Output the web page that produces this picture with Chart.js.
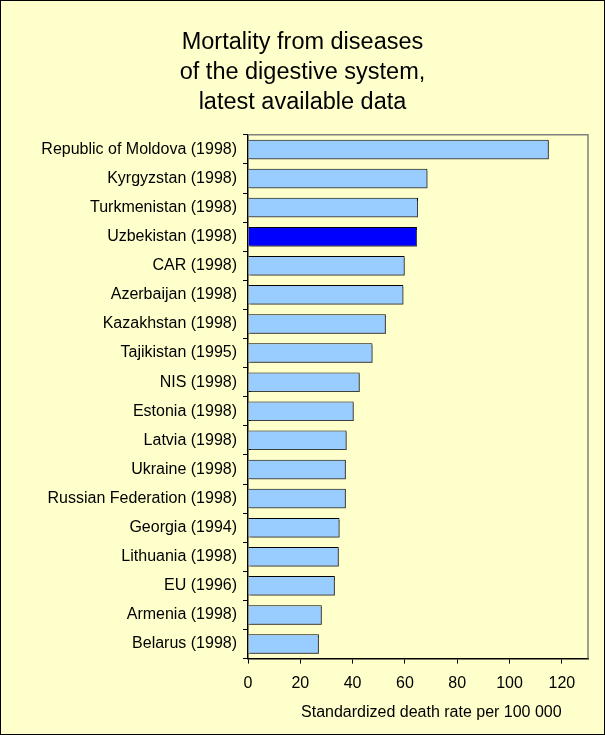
<!DOCTYPE html>
<html>
<head>
<meta charset="utf-8">
<script src="https://cdn.jsdelivr.net/npm/chart.js@4"></script>
<style>
  body { margin: 0; background: #fff; }
  #box { width: 603px; height: 733px; border: 1px solid #000; background: #FFFFCC; }
</style>
</head>
<body>
<div id="box"><canvas id="grafico" width="603" height="733"></canvas></div>
<script>
const paises = ['Republic of Moldova (1998)', 'Kyrgyzstan (1998)', 'Turkmenistan (1998)', 'Uzbekistan (1998)',
  'CAR (1998)', 'Azerbaijan (1998)', 'Kazakhstan (1998)', 'Tajikistan (1995)', 'NIS (1998)', 'Estonia (1998)',
  'Latvia (1998)', 'Ukraine (1998)', 'Russian Federation (1998)', 'Georgia (1994)', 'Lithuania (1998)',
  'EU (1996)', 'Armenia (1998)', 'Belarus (1998)'];
const taxas = [115.0, 68.6, 65.0, 64.6, 59.9, 59.4, 52.7, 47.6, 42.7, 40.4, 37.7, 37.4, 37.4, 35.0, 34.7, 33.2, 28.2, 27.1];
const destaque = 'Uzbekistan (1998)';
const ticks_x = [0, 20, 40, 60, 80, 100, 120];

const FONTE = '"Liberation Sans", Arial, sans-serif';

const cores = paises.map(p => p === destaque ? '#0000FF' : '#99CCFF');

// sombra das barras + moldura cinza em cima e à direita
const extras = {
  id: 'extras',
  beforeDatasetsDraw(chart) {
    const ctx = chart.ctx;
    ctx.save();
    ctx.shadowColor = 'rgba(80,80,80,0.8)';
    ctx.shadowOffsetX = 2;
    ctx.shadowOffsetY = 2;
    ctx.shadowBlur = 0;
  },
  afterDatasetsDraw(chart) {
    chart.ctx.restore();
  },
  afterDraw(chart) {
    const ctx = chart.ctx;
    const a = chart.chartArea;
    ctx.save();
    ctx.strokeStyle = '#808080';
    ctx.lineWidth = 1.5;
    ctx.beginPath();
    ctx.moveTo(a.left, a.top);
    ctx.lineTo(a.right, a.top);
    ctx.lineTo(a.right, a.bottom);
    ctx.stroke();
    ctx.restore();
  }
};

new Chart(document.getElementById('grafico'), {
  type: 'bar',
  data: {
    labels: paises,
    datasets: [{
      data: taxas,
      backgroundColor: cores,
      borderColor: '#000',
      borderWidth: 1,
      categoryPercentage: 1,
      barPercentage: 0.67
    }]
  },
  plugins: [extras],
  options: {
    indexAxis: 'y',
    responsive: false,
    animation: false,
    layout: { padding: { left: 16, right: 16, top: 0, bottom: 12 } },
    plugins: {
      legend: { display: false },
      tooltip: { enabled: false },
      title: {
        display: true,
        text: ['Mortality from diseases', 'of the digestive system,', 'latest available data'],
        color: '#000',
        font: { family: FONTE, size: 23.5, weight: 'normal', lineHeight: 1.26 },
        padding: { top: 27, bottom: 18 }
      }
    },
    scales: {
      x: {
        min: 0,
        max: 130,
        afterBuildTicks(scale) { scale.ticks = ticks_x.map(v => ({ value: v })); },
        grid: { drawOnChartArea: false, tickLength: 5, color: '#000', tickColor: '#000' },
        border: { color: '#000', width: 1.5 },
        ticks: { color: '#000', font: { family: FONTE, size: 16 }, padding: 10 },
        title: {
          display: true,
          text: '\u00a0\u00a0\u00a0\u00a0\u00a0\u00a0Standardized death rate per 100 000',
          color: '#000',
          font: { family: FONTE, size: 16 },
          padding: { top: 0, bottom: 0 }
        }
      },
      y: {
        afterFit(scale) { scale.width = 231; },
        grid: { drawOnChartArea: false, tickLength: 5, color: '#000', tickColor: '#000', offset: true },
        border: { color: '#000', width: 1.5 },
        ticks: { color: '#000', font: { family: FONTE, size: 16 }, padding: 6, autoSkip: false }
      }
    }
  }
});
</script>
</body>
</html>
